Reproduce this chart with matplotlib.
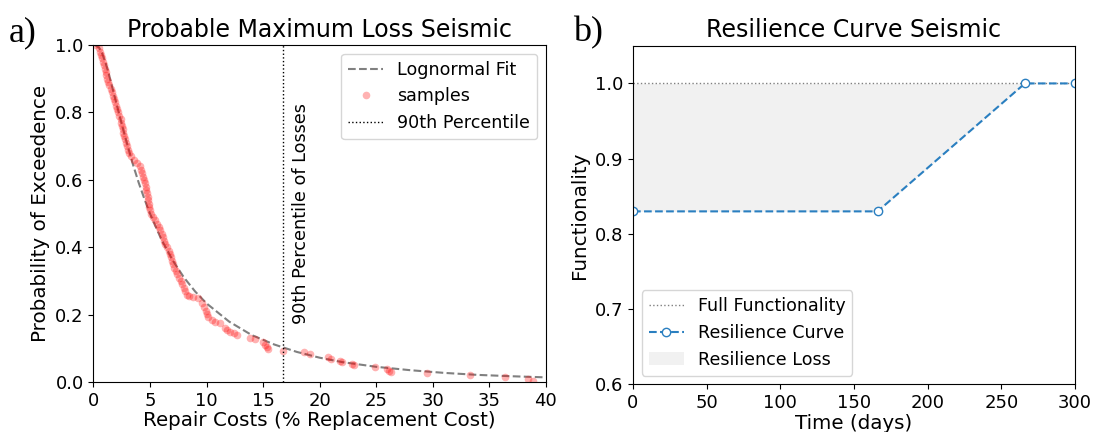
import matplotlib
matplotlib.use("Agg")
import matplotlib.pyplot as plt

# --- Data: panel a) probable maximum loss ---
fit_cost = [0.1, 0.5, 0.75, 1, 1.25, 1.5, 2, 2.5, 3, 3.5, 4, 4.5, 5, 6, 7, 8, 9, 10,
            12, 14, 16, 18, 20, 22, 25, 28, 31, 34, 37, 40]
fit_prob = [1.0, 0.992, 0.977, 0.954, 0.927, 0.896, 0.831, 0.766, 0.704, 0.645, 0.592,
            0.544, 0.500, 0.424, 0.362, 0.311, 0.269, 0.234, 0.180, 0.140, 0.112, 0.090,
            0.073, 0.060, 0.046, 0.036, 0.028, 0.022, 0.018, 0.0147]

sample_cost = [0.20, 0.45, 0.58, 0.70, 0.78, 0.85, 0.93, 1.00, 1.07, 1.15, 1.22, 1.29,
               1.38, 1.53, 1.66, 1.76, 1.85, 1.94, 2.03, 2.12, 2.21, 2.30, 2.40, 2.46,
               2.52, 2.58, 2.64, 2.72, 2.80, 2.88, 2.97, 3.07, 3.17, 3.30, 3.55, 3.85,
               4.12, 4.25, 4.32, 4.40, 4.48, 4.56, 4.62, 4.68, 4.74, 4.80, 4.86, 4.90,
               4.93, 4.97, 5.05, 5.25, 5.47, 5.62, 5.77, 5.92, 6.03, 6.14, 6.25, 6.36,
               6.50, 6.65, 6.79, 6.87, 6.94, 7.02, 7.11, 7.26, 7.41, 7.56, 7.70, 7.85,
               7.97, 8.10, 8.30, 8.45, 8.80, 9.28, 9.57, 9.80, 9.95, 10.05, 10.16, 10.50,
               10.75, 11.19, 11.63, 11.85, 12.08, 12.40, 12.67, 13.85, 14.29, 15.02, 15.20,
               15.32, 15.47, 16.80, 18.60, 19.15, 20.77, 21.00, 21.80, 22.00, 22.84, 23.00,
               24.90, 25.93, 26.10, 26.30, 29.47, 33.30, 36.40, 38.45, 38.85]
sample_prob = [1.00, 0.99, 0.98, 0.97, 0.96, 0.95, 0.94, 0.93, 0.92, 0.91, 0.90, 0.89,
               0.88, 0.87, 0.86, 0.85, 0.84, 0.83, 0.82, 0.81, 0.80, 0.79, 0.78, 0.77,
               0.76, 0.75, 0.74, 0.73, 0.72, 0.71, 0.70, 0.69, 0.68, 0.67, 0.66, 0.65,
               0.64, 0.63, 0.62, 0.61, 0.60, 0.59, 0.58, 0.57, 0.56, 0.55, 0.54, 0.53,
               0.52, 0.51, 0.50, 0.49, 0.48, 0.47, 0.46, 0.45, 0.44, 0.43, 0.42, 0.41,
               0.40, 0.39, 0.38, 0.37, 0.36, 0.35, 0.34, 0.33, 0.32, 0.31, 0.30, 0.29,
               0.28, 0.27, 0.26, 0.255, 0.252, 0.249, 0.234, 0.222, 0.212, 0.203, 0.194, 0.186,
               0.180, 0.175, 0.160, 0.155, 0.150, 0.145, 0.140, 0.132, 0.127, 0.120, 0.112,
               0.106, 0.099, 0.094, 0.091, 0.083, 0.074, 0.069, 0.062, 0.060, 0.055, 0.052,
               0.046, 0.038, 0.034, 0.030, 0.027, 0.022, 0.015, 0.009, 0.005]

p90_cost = 16.8

# --- Data: panel b) resilience curve ---
time_days = [0, 166, 266, 300]
functionality = [0.83, 0.83, 1.0, 1.0]
full_level = 1.0

fig = plt.figure(figsize=(11.07, 4.32), dpi=100)
ax1 = fig.add_axes([0.0844, 0.115, 0.4086, 0.781])
ax2 = fig.add_axes([0.5718, 0.110, 0.3993, 0.784])

# a) PML
ax1.plot(fit_cost, fit_prob, '--', color='gray', linewidth=1.5, label='Lognormal Fit')
ax1.plot(sample_cost, sample_prob, 'o', linestyle='none', color='red', alpha=0.3,
         markersize=5.5, markeredgewidth=0, label='samples')
ax1.axvline(p90_cost, color='black', linestyle=':', linewidth=1, label='90th Percentile')
ax1.text(p90_cost + 0.8, 0.5, '90th Percentile of Losses', rotation=90,
         ha='left', va='center', fontsize=12.7)
ax1.set_xlim(0, 40)
ax1.set_ylim(0, 1)
ax1.set_title('Probable Maximum Loss Seismic', fontsize=17)
ax1.set_xlabel('Repair Costs (% Replacement Cost)', fontsize=14.3, labelpad=1)
ax1.set_ylabel('Probability of Exceedence', fontsize=14.3)
ax1.tick_params(labelsize=13)
ax1.legend(loc='upper right', fontsize=12.6)

# b) Resilience
ax2.axhline(full_level, color='gray', linestyle=':', linewidth=1, label='Full Functionality')
ax2.plot(time_days, functionality, '--o', color='#2a7fc0', linewidth=1.5,
         markersize=6, markerfacecolor='white', label='Resilience Curve')
ax2.fill_between(time_days, functionality, full_level, color='lightgray', alpha=0.3,
                 linewidth=0, label='Resilience Loss')
ax2.set_xlim(0, 300)
ax2.set_ylim(0.6, 1.05)
ax2.set_title('Resilience Curve Seismic', fontsize=17)
ax2.set_xlabel('Time (days)', fontsize=14.3, labelpad=1)
ax2.set_ylabel('Functionality', fontsize=14.3)
ax2.tick_params(labelsize=13)
ax2.legend(loc='lower left', fontsize=12.6)

fig.text(0.008, 0.905, 'a)', fontsize=26, family='Liberation Serif')
fig.text(0.518, 0.905, 'b)', fontsize=26, family='Liberation Serif')

fig.savefig('out.png', dpi=100)
